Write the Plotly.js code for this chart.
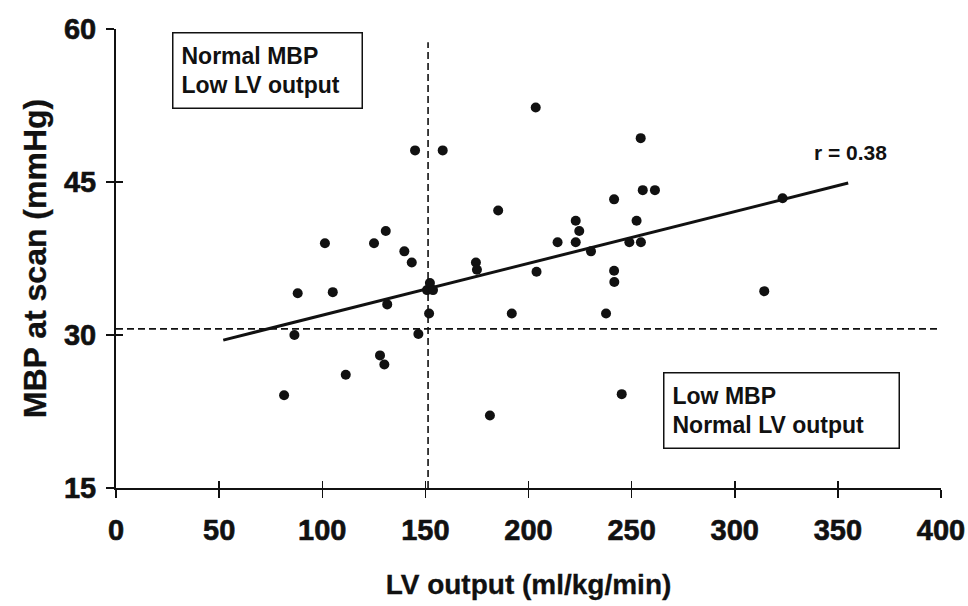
<!DOCTYPE html>
<html>
<head>
<meta charset="utf-8">
<script src="https://cdn.plot.ly/plotly-3.0.1.min.js"></script>
<style>
html,body{margin:0;padding:0;background:#fff;}
#chart{width:968px;height:606px;}
#chart .xtick text, #chart .ytick text { font-weight: 700 !important; stroke: #111; stroke-width: 0.6px; }
#chart .xtitle, #chart .ytitle { stroke: #111; stroke-width: 0.3px; }
</style>
</head>
<body>
<div id="chart"></div>
<script>
// LV output (ml/kg/min) for each infant
var lvOutput = [81.5, 86.5, 88.1, 101.3, 105.1, 111.4, 125.1, 128.0, 130.1, 130.8,
  131.5, 139.8, 143.4, 145.0, 146.6, 150.8, 152.2, 153.7, 151.8, 158.4,
  174.5, 175.0, 181.3, 185.3, 191.9, 203.5, 203.9, 214.1, 222.9, 224.6,
  222.9, 230.3, 237.6, 241.5, 241.5, 241.6, 245.2, 248.9, 252.4, 254.4,
  254.5, 255.4, 261.3, 314.3, 323.2];
// MBP at scan (mmHg)
var mbp = [24.1, 30.0, 34.1, 39.0, 34.2, 26.1, 39.0, 28.0, 27.1, 40.2,
  33.0, 38.2, 37.1, 48.1, 30.1, 34.4, 35.1, 34.4, 32.1, 48.1,
  37.1, 36.4, 22.1, 42.2, 32.1, 52.3, 36.2, 39.1, 41.2, 40.2,
  39.1, 38.2, 32.1, 43.3, 36.3, 35.2, 24.2, 39.1, 41.2, 49.3,
  39.1, 44.2, 44.2, 34.3, 43.4];
// regression line end points
var fitX = [52, 355];
var fitY = [29.5, 44.9];
// cut-off reference lines
var lvCutoff = 151.3;
var lvCutoffY = [15, 58.7];
var mbpCutoff = 30.6;
var mbpCutoffX = [0, 400];
// axis ticks
var xTicks = [0, 50, 100, 150, 200, 250, 300, 350, 400];
var yTicks = [15, 30, 45, 60];
var rLabel = 'r = 0.38';
var box1 = 'Normal MBP<br>Low LV output';
var box2 = 'Low MBP<br>Normal LV output';

var FONT = '"Liberation Sans", Arial, Helvetica, sans-serif';
var INK = '#111111';

var traces = [
  {x: [lvCutoff, lvCutoff], y: lvCutoffY, mode: 'lines', type: 'scatter',
   line: {color: INK, width: 1.6, dash: '7px,4px'}, hoverinfo: 'skip'},
  {x: mbpCutoffX, y: [mbpCutoff, mbpCutoff], mode: 'lines', type: 'scatter',
   line: {color: INK, width: 1.6, dash: '7px,4px'}, hoverinfo: 'skip'},
  {x: fitX, y: fitY, mode: 'lines', type: 'scatter',
   line: {color: INK, width: 3}},
  {x: lvOutput, y: mbp, mode: 'markers', type: 'scatter',
   marker: {color: INK, size: 10}},
  {x: [0], y: [15], xaxis: 'x2', yaxis: 'y2', mode: 'markers', type: 'scatter',
   marker: {opacity: 0}, hoverinfo: 'skip'}
];

var tickFont = {family: FONT, size: 29, color: INK, weight: 'bold'};
function bold(v) { return '<b>' + v + '</b>'; }

var layout = {
  width: 968, height: 606,
  margin: {l: 116, r: 27, t: 29, b: 118},
  paper_bgcolor: '#fff', plot_bgcolor: '#fff',
  showlegend: false,
  font: {family: FONT, color: INK},
  xaxis: {
    range: [0, 400], tickvals: xTicks, ticktext: xTicks.map(bold),
    showgrid: false, zeroline: false, showline: true, linecolor: INK, linewidth: 2,
    ticks: 'outside', ticklen: 8, tickwidth: 1.5, tickcolor: INK,
    tickfont: tickFont, ticklabelstandoff: 7,
    title: {text: '<b>LV output (ml/kg/min)</b>', font: {family: FONT, size: 28, color: INK, weight: 'bold'}, standoff: 30}
  },
  yaxis: {
    range: [15, 60], tickvals: yTicks, ticktext: yTicks.map(bold),
    showgrid: false, zeroline: false, showline: true, linecolor: INK, linewidth: 2,
    ticks: 'outside', ticklen: 8, tickwidth: 1.5, tickcolor: INK,
    tickfont: tickFont, ticklabelstandoff: 4,
    title: {text: '<b>MBP at scan (mmHg)</b>', font: {family: FONT, size: 32, color: INK, weight: 'bold'}, standoff: 8}
  },
  xaxis2: {
    overlaying: 'x', anchor: 'y2', range: [0, 400], tickvals: xTicks,
    showticklabels: false, showgrid: false, zeroline: false, showline: false,
    ticks: 'inside', ticklen: 7, tickwidth: 1.5, tickcolor: INK
  },
  yaxis2: {
    overlaying: 'y', anchor: 'x2', range: [15, 60], tickvals: yTicks,
    showticklabels: false, showgrid: false, zeroline: false, showline: false,
    ticks: 'inside', ticklen: 7, tickwidth: 1.5, tickcolor: INK
  },
  annotations: [
    {text: '<b>' + box1.replace('<br>', '</b><br><b>') + '</b>', xref: 'x', yref: 'y', x: 27.2, y: 59.7, xanchor: 'left', yanchor: 'top',
     showarrow: false, align: 'left', width: 172, height: 58, borderpad: 8,
     bordercolor: INK, borderwidth: 1.5, bgcolor: '#fff',
     font: {family: FONT, size: 23, color: INK, weight: 'bold'}},
    {text: '<b>' + box2.replace('<br>', '</b><br><b>') + '</b>', xref: 'x', yref: 'y', x: 265.2, y: 26.4, xanchor: 'left', yanchor: 'top',
     showarrow: false, align: 'left', width: 218, height: 58, borderpad: 8,
     bordercolor: INK, borderwidth: 1.5, bgcolor: '#fff',
     font: {family: FONT, size: 23, color: INK, weight: 'bold'}},
    {text: '<b>' + rLabel + '</b>', xref: 'x', yref: 'y', x: 356, y: 47.9, xanchor: 'center', yanchor: 'middle',
     showarrow: false, font: {family: FONT, size: 21, color: INK, weight: 'bold'}}
  ]
};

Plotly.newPlot('chart', traces, layout, {displayModeBar: false, staticPlot: true});
</script>
</body>
</html>
